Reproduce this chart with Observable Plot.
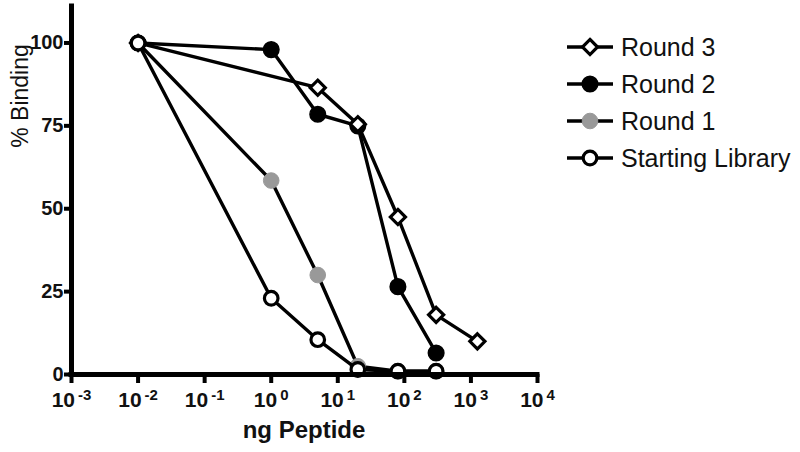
<!DOCTYPE html>
<html>
<head>
<meta charset="utf-8">
<script src="https://cdn.jsdelivr.net/npm/d3@7"></script>
<script src="https://cdn.jsdelivr.net/npm/@observablehq/plot@0.6"></script>
<style>
  html, body { margin: 0; padding: 0; background: #fff; }
  #chart { width: 800px; height: 452px; position: relative; }
  svg { font-family: "Liberation Sans", Arial, Helvetica, sans-serif; }
  g[aria-label="x-axis tick label"] { font-size: 21px; font-weight: bold; }
  g[aria-label="y-axis tick label"] { font-size: 20px; font-weight: bold; }
</style>
</head>
<body>
<div id="chart"></div>
<script>
// ---- data ----
const seriesNames = ["Round 3", "Round 2", "Round 1", "Starting Library"];

const doseRound3 = [0.01, 5, 20, 80, 300, 1250];
const bindRound3 = [100, 86.5, 75.5, 47.5, 18, 10];

const doseRound2 = [0.01, 1, 5, 20, 80, 300];
const bindRound2 = [100, 98, 78.5, 75, 26.5, 6.5];

const doseRound1 = [0.01, 1, 5, 20, 80, 300];
const bindRound1 = [100, 58.5, 30, 2.5, 1, 1];

const doseStart = [0.01, 1, 5, 20, 80, 300];
const bindStart = [100, 23, 10.5, 1.5, 1, 1];

const xTicks = [1e-3, 1e-2, 1e-1, 1e0, 1e1, 1e2, 1e3, 1e4];
const yTicks = [0, 25, 50, 75, 100];

// ---- build tables ----
function rows(name, dose, bind) {
  return dose.map((d, i) => ({series: name, dose: d, binding: bind[i]}));
}
const r3 = rows("Round 3", doseRound3, bindRound3);
const r2 = rows("Round 2", doseRound2, bindRound2);
const r1 = rows("Round 1", doseRound1, bindRound1);
const st = rows("Starting Library", doseStart, bindStart);

const styles = {
  "Round 3": {symbol: "diamond2", fill: "white", stroke: "black", r: 6.8, sw: 3.2},
  "Round 2": {symbol: "circle", fill: "black", stroke: "black", r: 7.8, sw: 1.5},
  "Round 1": {symbol: "circle", fill: "#999999", stroke: "#999999", r: 7.8, sw: 1},
  "Starting Library": {symbol: "circle", fill: "white", stroke: "black", r: 6.8, sw: 3.2}
};

function seriesMarks(data) {
  const s = styles[data[0].series];
  return [
    Plot.line(data, {x: "dose", y: "binding", stroke: "black", strokeWidth: 3.4}),
    Plot.dot(data, {x: "dose", y: "binding", symbol: () => s.symbol, r: s.r,
      fill: s.fill, stroke: s.stroke, strokeWidth: s.sw})
  ];
}

const plot = Plot.plot({
  width: 800,
  height: 452,
  marginLeft: 71,
  marginRight: 263,
  marginTop: 6,
  marginBottom: 78,
  style: {fontFamily: '"Liberation Sans", Arial, Helvetica, sans-serif', background: "white", overflow: "visible"},
  x: {type: "log", domain: [1e-3, 1e4]},
  y: {domain: [0, 111]},
  symbol: {type: "identity"},
  marks: [
    Plot.axisX({ticks: xTicks, tickSize: 9, tickPadding: 9, strokeWidth: 4, stroke: "black",
      fill: "#111", tickFormat: d => "10^" + Math.round(Math.log10(d)), label: null}),
    Plot.axisY({ticks: yTicks, tickSize: 7, tickPadding: 1, strokeWidth: 4, stroke: "black",
      fill: "#111", label: null}),
    ...seriesMarks(r1),
    ...seriesMarks(r2),
    ...seriesMarks(r3),
    ...seriesMarks(st),
    Plot.ruleY([0], {stroke: "black", strokeWidth: 5, strokeLinecap: "square"}),
    Plot.ruleX([1e-3], {stroke: "black", strokeWidth: 5, strokeLinecap: "square"})
  ]
});

document.getElementById("chart").appendChild(plot);

const svg = d3.select(plot);

// superscript exponents on x tick labels
svg.selectAll('g[aria-label="x-axis tick label"] text').each(function() {
  const t = d3.select(this);
  const parts = t.text().split("^");
  if (parts.length === 2) {
    t.text("10");
    t.append("tspan").attr("dx", "3").attr("dy", "-7").attr("font-size", "15px").text(parts[1]);
  }
});

// axis titles
svg.append("text")
  .attr("transform", "translate(28,96) rotate(-90)")
  .attr("text-anchor", "middle")
  .attr("font-size", 23)
  .attr("fill", "#111")
  .text("% Binding");

svg.append("text")
  .attr("x", 304)
  .attr("y", 438)
  .attr("text-anchor", "middle")
  .attr("font-size", 24)
  .attr("font-weight", "bold")
  .attr("fill", "#111")
  .text("ng Peptide");

// legend
const legendRows = [47, 84, 121, 158];
seriesNames.forEach((name, i) => {
  const s = styles[name];
  const y = legendRows[i];
  const g = svg.append("g").attr("transform", `translate(0,${y})`);
  g.append("line").attr("x1", 567).attr("x2", 613).attr("y1", 0).attr("y2", 0)
    .attr("stroke", "black").attr("stroke-width", 3.4);
  const sym = s.symbol === "diamond2" ? d3.symbolDiamond2 : d3.symbolCircle;
  g.append("path")
    .attr("transform", "translate(590,0)")
    .attr("d", d3.symbol(sym, Math.PI * s.r * s.r)())
    .attr("fill", s.fill).attr("stroke", s.stroke).attr("stroke-width", s.sw);
  g.append("text").attr("x", 621).attr("y", 0).attr("dy", "0.35em")
    .attr("text-anchor", "start")
    .attr("font-size", 25).attr("fill", "#111").text(name);
});
</script>
</body>
</html>
